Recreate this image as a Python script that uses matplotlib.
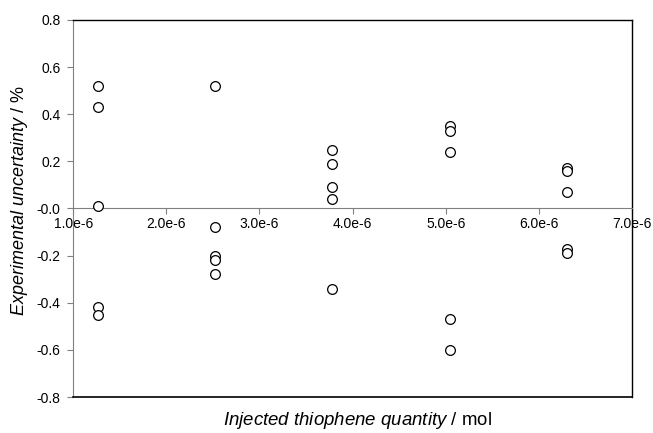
import matplotlib
matplotlib.use("Agg")
import matplotlib.pyplot as plt

plt.rcParams["font.family"] = ["Liberation Sans", "DejaVu Sans"]
plt.rcParams["mathtext.fontset"] = "custom"
plt.rcParams["mathtext.rm"] = "Liberation Sans"
plt.rcParams["mathtext.it"] = "Liberation Sans:italic"

# injected quantity (mol) for each measurement series
quantity = [1.265e-6, 2.52e-6, 3.78e-6, 5.05e-6, 6.30e-6]
# experimental uncertainty (%) measured at each quantity
uncertainty = [
    [0.52, 0.43, 0.01, -0.42, -0.45],
    [0.52, -0.08, -0.20, -0.22, -0.28],
    [0.25, 0.19, 0.09, 0.04, -0.34],
    [0.35, 0.33, 0.24, -0.47, -0.60],
    [0.17, 0.16, 0.07, -0.17, -0.19],
]

x_ticks = [1e-6, 2e-6, 3e-6, 4e-6, 5e-6, 6e-6, 7e-6]
x_labels = ["1.0e-6", "2.0e-6", "3.0e-6", "4.0e-6", "5.0e-6", "6.0e-6", "7.0e-6"]
y_ticks = [-0.8, -0.6, -0.4, -0.2, 0.0, 0.2, 0.4, 0.6, 0.8]
y_labels = ["-0.8", "-0.6", "-0.4", "-0.2", "-0.0", "0.2", "0.4", "0.6", "0.8"]

fig = plt.figure(figsize=(6.53, 4.33), dpi=100)
ax = fig.add_axes([0.112, 0.083, 0.856, 0.871])

xs, ys = [], []
for q, vals in zip(quantity, uncertainty):
    xs += [q] * len(vals)
    ys += vals
ax.plot(xs, ys, linestyle="none", marker="o", markersize=7,
        markerfacecolor="white", markeredgecolor="black", markeredgewidth=0.9,
        clip_on=False, zorder=3)

ax.set_xlim(1e-6, 7e-6)
ax.set_ylim(-0.8, 0.8)

grey = "#808080"
ax.spines["bottom"].set_position(("data", 0))
ax.spines["bottom"].set_color(grey)
ax.spines["left"].set_color(grey)
for s in ("top", "right"):
    ax.spines[s].set_color("black")
    ax.spines[s].set_linewidth(1.0)
# bottom frame line of the box
ax.plot([0, 1], [0, 0], transform=ax.transAxes, color="black", lw=1.2,
        clip_on=False, zorder=4)

ax.set_xticks(x_ticks)
ax.set_xticklabels(x_labels)
ax.set_yticks(y_ticks)
ax.set_yticklabels(y_labels)
ax.tick_params(axis="both", colors=grey, labelcolor="black", labelsize=10,
               length=4, direction="out")
ax.tick_params(axis="x", pad=2)
ax.tick_params(axis="y", pad=5)

fig.text(0.548, 0.03, r"$\it{Injected\ thiophene\ quantity}$ / mol",
         ha="center", va="center", fontsize=13.4)
fig.text(0.03, 0.537, r"$\it{Experimental\ uncertainty}$ / %",
         ha="center", va="center", rotation=90, fontsize=13)

fig.savefig("out.png", dpi=100)
